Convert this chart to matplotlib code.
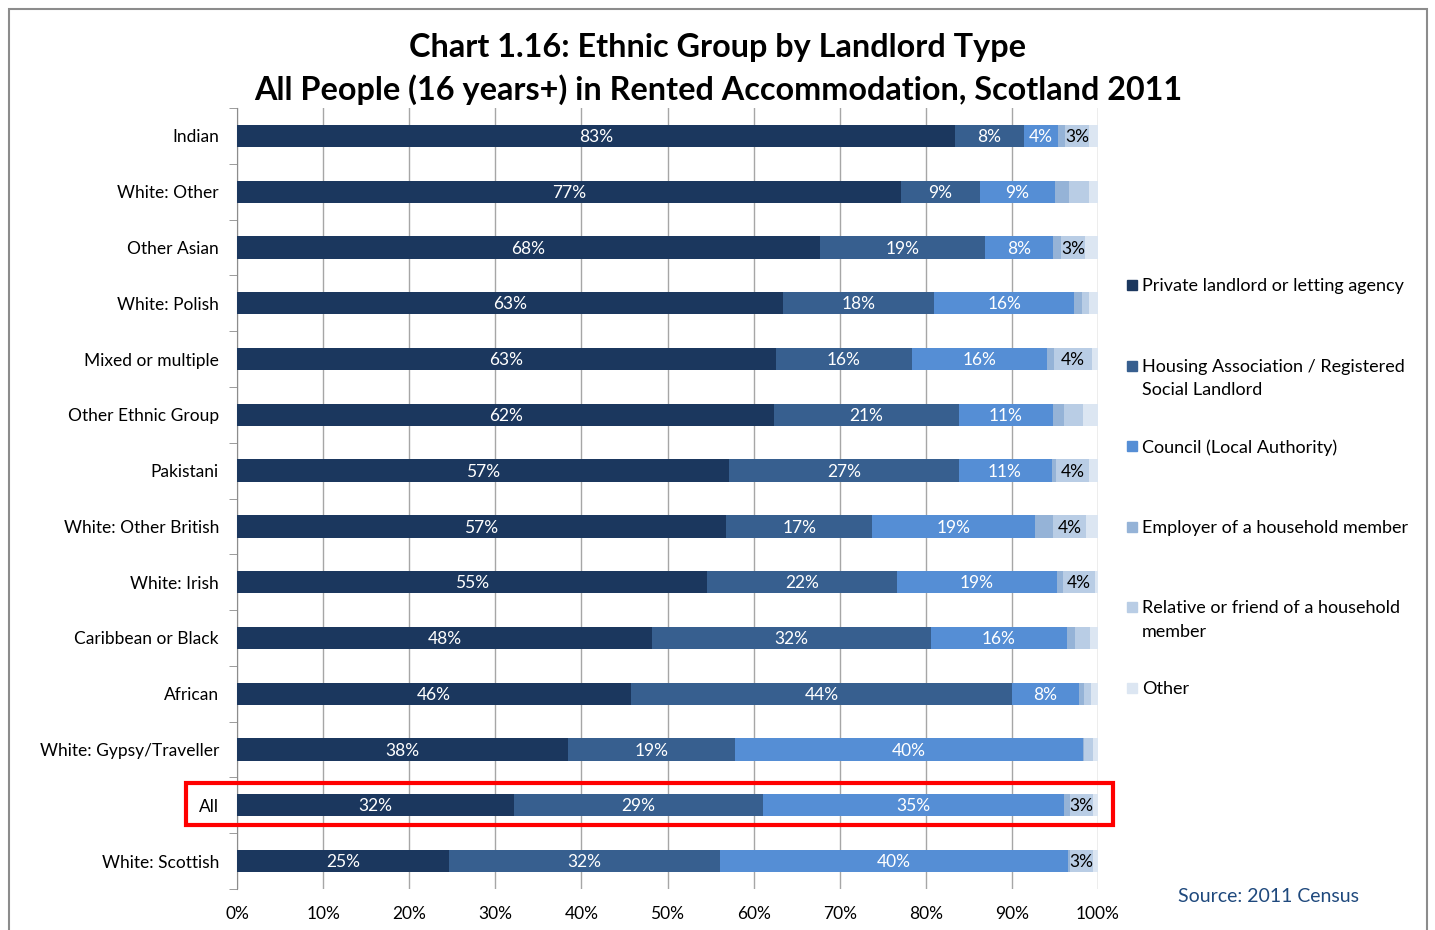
import matplotlib.pyplot as plt
import matplotlib.patches as patches
import numpy as np

## data ##
groups = ['Indian', 'White: Other', 'Other Asian', 'White: Polish', 'Mixed or multiple',
          'Other Ethnic Group', 'Pakistani', 'White: Other British', 'White: Irish',
          'Caribbean or Black', 'African', 'White: Gypsy/Traveller', 'All', 'White: Scottish']

private = [83.4, 77.1, 67.7, 63.4, 62.6, 62.4, 57.2, 56.8, 54.6, 48.2, 45.8, 38.4, 32.2, 24.6]
housing = [8.0, 9.2, 19.2, 17.6, 15.8, 21.4, 26.6, 17.0, 22.0, 32.4, 44.2, 19.4, 28.9, 31.5]
council = [4.0, 8.7, 7.9, 16.2, 15.7, 11.0, 10.8, 18.9, 18.6, 15.8, 7.8, 40.4, 35.0, 40.4]
employer = [0.8, 1.6, 0.9, 0.9, 0.8, 1.3, 0.5, 2.1, 0.7, 0.9, 0.6, 0.2, 0.6, 0.2]
relative = [2.8, 2.4, 2.8, 0.8, 4.4, 2.1, 3.9, 3.8, 3.7, 1.8, 0.8, 1.0, 2.7, 2.7]
other = [1.0, 1.0, 1.5, 1.1, 0.7, 1.8, 1.0, 1.4, 0.4, 0.9, 0.8, 0.6, 0.6, 0.6]

series_names = ['Private landlord or letting agency',
                'Housing Association / Registered\nSocial Landlord',
                'Council (Local Authority)',
                'Employer of a household member',
                'Relative or friend of a household\nmember',
                'Other']
colors = ['#1B375E', '#375F8F', '#558ED5', '#95B3D7', '#B9CDE5', '#DCE6F2']
label_colors = ['white', 'white', 'white', 'black', 'black', 'black']

xticks = np.arange(0, 101, 10)

plt.rcParams['font.family'] = ['Lato', 'DejaVu Sans']

fig = plt.figure(figsize=(14.35, 9.30), dpi=100)
ax = fig.add_axes([237/1435, 1-889/930, 861/1435, 781/930])

## outer border ##
fig.patches.append(patches.Rectangle((9/1435, -0.05), 1418/1435, 1.05-9/930,
                                     transform=fig.transFigure, fill=False,
                                     edgecolor='#8C8C8C', linewidth=1.5))

y = np.arange(len(groups))
left = np.zeros(len(groups))
all_series = [private, housing, council, employer, relative, other]
for vals, name, col, lcol in zip(all_series, series_names, colors, label_colors):
    vals = np.array(vals)
    bars = ax.barh(y, vals, left=left, height=0.4, color=col, label=name, zorder=3)
    for b, v in zip(bars, vals):
        if v >= 2.5:
            ax.text(b.get_x() + b.get_width()/2, b.get_y() + b.get_height()/2 + 0.02,
                    f'{v:.0f}%', ha='center', va='center', color=lcol,
                    fontsize=12.5, zorder=4)
    left += vals

ax.set_xlim(0, 100)
ax.set_ylim(len(groups) - 0.5, -0.5)
ax.set_xticks(xticks)
ax.set_xticklabels([f'{t}%' for t in xticks], fontsize=12.5)
ax.tick_params(axis='x', length=0, pad=12)
ax.set_yticks(y)
ax.set_yticklabels(groups, fontsize=12.5)
ax.set_yticks(np.arange(-0.5, len(groups), 1), minor=True)
ax.tick_params(axis='y', which='major', length=0, pad=13)
ax.tick_params(axis='y', which='minor', length=6, color='#8C8C8C', direction='out')
ax.grid(axis='x', color='#A6A6A6', linewidth=1, zorder=0)
for s in ['top', 'right', 'bottom']:
    ax.spines[s].set_visible(False)
ax.spines['left'].set_color('#8C8C8C')

## highlight All row ##
fig.patches.append(patches.Rectangle((186/1435, 1-825/930), 927/1435, 42/930,
                                     transform=fig.transFigure, fill=False,
                                     edgecolor='#FF0000', linewidth=3))

fig.text(718/1435, 1-48/930, 'Chart 1.16: Ethnic Group by Landlord Type',
         ha='center', va='center', fontsize=23.3, fontweight='bold')
fig.text(718/1435, 1-90/930, 'All People (16 years+) in Rented Accommodation, Scotland 2011',
         ha='center', va='center', fontsize=23.3, fontweight='bold')

## legend, entries evenly spaced like the original ##
for i, (name, col) in enumerate(zip(series_names, colors)):
    ly = 285 + i * 80.6
    fig.patches.append(patches.Rectangle((1127/1435, 1-(ly+5)/930), 10/1435, 10/930,
                                         transform=fig.transFigure, color=col))
    fig.text(1142/1435, 1-(ly-7)/930, name, ha='left', va='top', fontsize=13,
             linespacing=1.55)

fig.text(1269/1435, 1-896/930, 'Source: 2011 Census', ha='center', va='center',
         fontsize=14, color='#1F497D')

fig.savefig('out.png', dpi=100)
